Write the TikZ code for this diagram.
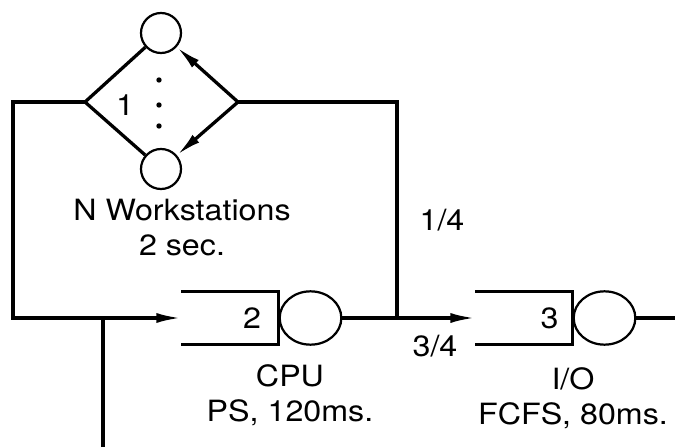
\documentclass[tikz,border=0pt]{standalone}
\usepackage{fontspec}
\setmainfont{TeX Gyre Heros}[FakeStretch=1.1]
\usetikzlibrary{shapes.geometric, arrows.meta, positioning}

\begin{document}
\begin{tikzpicture}[
    line/.style={line width=2.8pt},
    arrow/.style={line width=2.8pt, -{Latex[length=0.75cm, width=0.3cm]}},
    queue/.style={minimum width=2.9cm, minimum height=1.58cm, inner sep=0pt},
    qline/.style={line width=3.2pt},
    server/.style={ellipse, draw, line width=1.9pt, minimum width=1.85cm, minimum height=1.6cm, inner sep=0pt},
    station/.style={circle, draw, line width=1.9pt, minimum size=1.2cm, inner sep=0pt},
    lbl/.style={font=\fontsize{25}{30}\selectfont, align=center}
]
    \useasboundingbox (0,0) rectangle (20.25,13.41);

    % Workstations
    \node[station] (ws1) at (4.83,12.42) {};
    \node[station] (wsn) at (4.83,8.34) {};
    \coordinate (lv) at (2.55,10.35);
    \coordinate (rv) at (7.14,10.35);
    \node[lbl] (one) at (3.75,10.26) {1};
    \foreach \y in {11.01,10.26,9.63}
        \fill (4.77,\y) circle (0.08);
    \node[lbl] (wslbl) at (5.46,6.58) {N Workstations\\2 sec.};

    % CPU
    \node[queue] (q2) at (6.9,3.87) {};
    \node[server, right=0pt of q2] (s2) {};
    \node[lbl, left=0.4cm of q2.east] (n2) {2};
    \node[lbl] (cpulbl) at (8.7,1.56) {CPU\\PS, 120ms.};

    % I/O
    \node[queue] (q3) at (15.72,3.87) {};
    \node[server, right=0pt of q3] (s3) {};
    \node[lbl, left=0.3cm of q3.east] (n3) {3};
    \node[lbl] (iolbl) at (17.19,1.47) {I/O\\FCFS, 80ms.};

    % Branch labels
    \node[lbl] (p14) at (13.26,6.81) {1/4};
    \node[lbl] (p34) at (13.05,3.03) {3/4};

    % Queue boxes
    \draw[qline] (q2.north west) -- (q2.north east) -- (q2.south east) -- (q2.south west);
    \draw[qline] (q3.north west) -- (q3.north east) -- (q3.south east) -- (q3.south west);

    % Connectors
    \coordinate (lc) at (0.39,10.35);
    \coordinate (jn) at (11.91,3.87);
    \coordinate (src) at (3.09,0);
    \coordinate (out) at (20.25,3.87);
    \draw[line] (lv) -- (ws1);
    \draw[line] (lv) -- (wsn);
    \draw[arrow] (rv) -- (ws1);
    \draw[arrow] (rv) -- (wsn);
    \draw[arrow] (lv) -- (lc) |- (q2.west);
    \draw[line] (src) -- (src |- q2.west);
    \draw[line] (s2.east) -- (jn) |- (rv);
    \draw[arrow] (jn) -- (q3.west);
    \draw[line] (s3.east) -- (out);
\end{tikzpicture}
\end{document}
